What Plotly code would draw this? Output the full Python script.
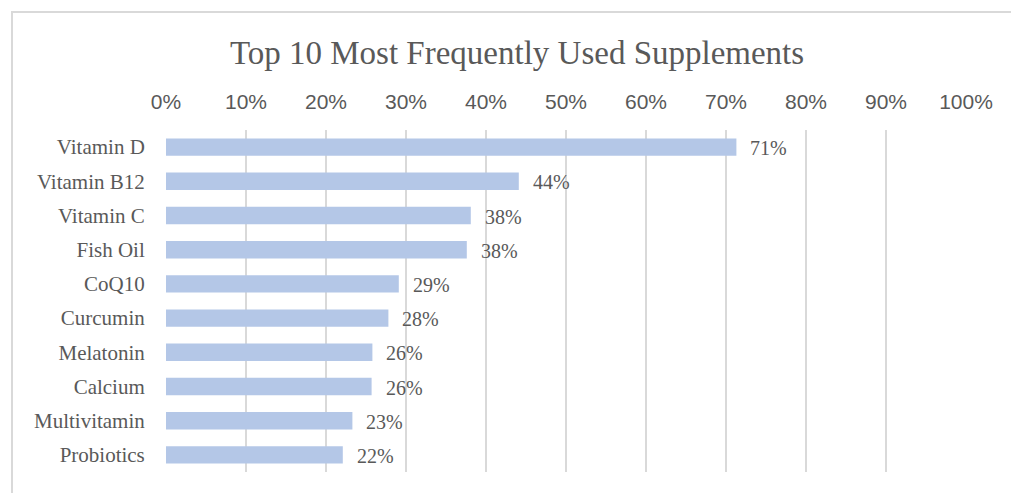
import plotly.graph_objects as go

categories = ["Vitamin D", "Vitamin B12", "Vitamin C", "Fish Oil", "CoQ10",
              "Curcumin", "Melatonin", "Calcium", "Multivitamin", "Probiotics"]
values = [0.713, 0.441, 0.381, 0.376, 0.291, 0.278, 0.258, 0.257, 0.233, 0.221]
tick_vals = [0, 0.1, 0.2, 0.3, 0.4, 0.5, 0.6, 0.7, 0.8, 0.9, 1.0]
tick_text = ["0%", "10%", "20%", "30%", "40%", "50%", "60%", "70%", "80%", "90%", "100%"]
title_text = "Top 10 Most Frequently Used Supplements"

W, H = 1011, 493
ML, MR, MT, MB = 166, 45, 130, 21
PW, PH = W - ML - MR, H - MT - MB

GRAY = "#595959"
SERIF = "Liberation Serif, Times New Roman, serif"

fig = go.Figure()
fig.add_trace(go.Bar(
    x=values, y=categories, orientation="h",
    marker=dict(color="#B4C7E7", line=dict(width=0)),
    hoverinfo="skip",
))

for c, v in zip(categories, values):
    fig.add_annotation(x=v, y=c, xref="x", yref="y", text=f"{int(v*100 + 0.5)}%",
                       showarrow=False, xanchor="left", yanchor="middle",
                       xshift=12, yshift=-1,
                       font=dict(family=SERIF, size=20, color=GRAY))

def px2paper_x(px):
    return (px - ML) / PW

def py2paper_y(py):
    return 1 - (py - MT) / PH

fig.add_shape(type="rect", xref="paper", yref="paper",
              x0=px2paper_x(12), x1=px2paper_x(1030),
              y0=py2paper_y(520), y1=py2paper_y(12),
              line=dict(color="#D9D9D9", width=2), fillcolor="rgba(0,0,0,0)",
              layer="below")

fig.update_layout(
    width=W, height=H,
    margin=dict(l=ML, r=MR, t=MT, b=MB),
    paper_bgcolor="white", plot_bgcolor="white",
    bargap=0.49,
    showlegend=False,
    title=dict(text=title_text, x=(517) / W, xanchor="center",
               y=1 - 52 / H, yanchor="middle",
               font=dict(family=SERIF, size=33, color=GRAY)),
    xaxis=dict(side="top", range=[0, 1], tickvals=tick_vals, ticktext=tick_text,
               showgrid=True, gridcolor="#D9D9D9", gridwidth=2,
               zeroline=False, showline=False,
               ticks="outside", ticklen=12, tickcolor="rgba(0,0,0,0)",
               tickfont=dict(family="Liberation Sans, Arial, sans-serif", size=21, color=GRAY),
               fixedrange=True),
    yaxis=dict(categoryorder="array", categoryarray=categories, autorange="reversed",
               showgrid=False, zeroline=False, showline=False,
               ticks="outside", ticklen=16, tickcolor="rgba(0,0,0,0)",
               tickfont=dict(family=SERIF, size=21, color=GRAY),
               fixedrange=True),
)

fig.write_html("out.html")
